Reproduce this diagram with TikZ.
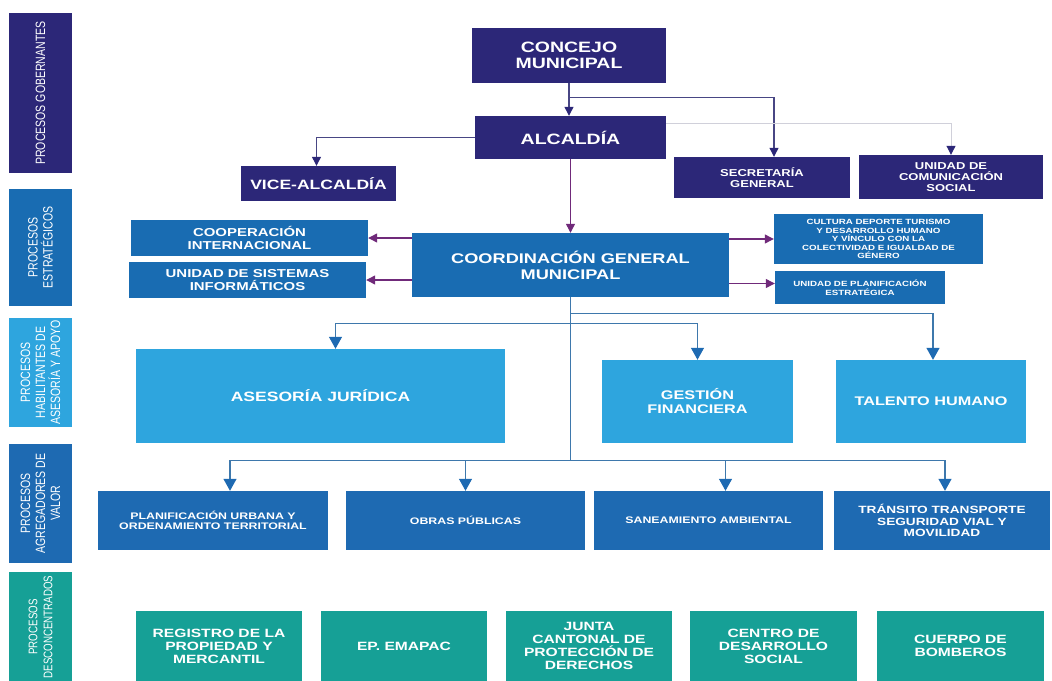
\documentclass[tikz,border=0pt]{standalone}
\usepackage{fontspec}
\setmainfont{Liberation Sans}[FakeStretch=1.3]
\newfontfamily\bandfont{Liberation Sans}[FakeStretch=0.78]
\usetikzlibrary{arrows.meta,calc}
\definecolor{govcol}{RGB}{44,39,120}
\definecolor{estcol}{RGB}{25,108,178}
\definecolor{habcol}{RGB}{46,165,222}
\definecolor{agrcol}{RGB}{30,106,178}
\definecolor{descol}{RGB}{22,160,150}
\definecolor{govline}{RGB}{72,70,132}
\definecolor{paleline}{RGB}{208,208,218}
\definecolor{purpline}{RGB}{112,42,122}
\definecolor{blueline}{RGB}{62,120,172}
\tikzset{
	box/.style={fill=#1, text=white, align=center, inner sep=2pt},
	fsz/.style 2 args={font=\bfseries\fontsize{#1}{#2}\selectfont},
	band/.style={box=#1, rotate=90, minimum width=\bandh, minimum height=63,
		font=\bandfont\fontsize{13.5}{15}\selectfont},
	govarrow/.style={draw=govline, line width=1.2pt, -{Triangle[length=9pt,width=9pt,color=govcol]}},
	palearrow/.style={draw=paleline, line width=1pt, -{Triangle[length=9pt,width=9pt,color=govcol]}},
	purparrow/.style={draw=purpline, line width=1.2pt, -{Triangle[length=9pt,width=9pt]}},
	bluearrow/.style={draw=blueline, line width=1.2pt, -{Triangle[length=12pt,width=13pt,color=agrcol]}},
}
\begin{document}
\begin{tikzpicture}[x=1pt, y=-1pt]
	\useasboundingbox (0,0) rectangle (1052,680);
	\def\bandh{160}
	\node[band=govcol] (gobernantes) at (40.5,93) {PROCESOS GOBERNANTES};
	\def\bandh{117}
	\node[band=estcol] (estrategicos) at (40.5,247.5) {PROCESOS\\ESTRATÉGICOS};
	\def\bandh{109}
	\node[band=habcol] (habilitantes) at (40.5,372.5) {PROCESOS\\HABILITANTES DE\\ASESORÍA Y APOYO};
	\def\bandh{119}
	\node[band=agrcol] (agregadores) at (40.5,503.5) {PROCESOS\\AGREGADORES DE\\VALOR};
	\def\bandh{110}
	\node[band=descol, font=\bandfont\fontsize{12.5}{15}\selectfont] (desconcentrados) at (40.5,627) {PROCESOS\\DESCONCENTRADOS};

	\node[box=govcol, fsz={15}{16}, minimum width=194, minimum height=55] (concejo) at (569,55.5) {CONCEJO\\MUNICIPAL};
	\node[box=govcol, fsz={15}{16}, minimum width=191, minimum height=43] (alcaldia) at (570.5,137.5) {ALCALDÍA};
	\node[box=govcol, fsz={13.5}{15}, minimum width=155, minimum height=35] (vice) at (318.5,183.5) {VICE-ALCALDÍA};
	\node[box=govcol, fsz={10}{11}, minimum width=176, minimum height=41] (secretaria) at (762,177.5) {SECRETARÍA\\GENERAL};
	\node[box=govcol, fsz={10}{11}, minimum width=184, minimum height=44] (comunicacion) at (951,177) {UNIDAD DE\\COMUNICACIÓN\\SOCIAL};

	\node[box=estcol, fsz={11.5}{13}, minimum width=237, minimum height=36] (cooperacion) at (249.5,238) {COOPERACIÓN\\INTERNACIONAL};
	\node[box=estcol, fsz={11.5}{13}, minimum width=237, minimum height=36] (sistemas) at (247.5,280) {UNIDAD DE SISTEMAS\\INFORMÁTICOS};
	\node[box=estcol, fsz={14}{16}, minimum width=317, minimum height=64] (coordinacion) at (570.5,265) {COORDINACIÓN GENERAL\\MUNICIPAL};
	\node[box=estcol, fsz={7.5}{8.5}, minimum width=209, minimum height=50] (cultura) at (878.5,239) {CULTURA DEPORTE TURISMO\\Y DESARROLLO HUMANO\\Y VÍNCULO CON LA\\COLECTIVIDAD E IGUALDAD DE\\GÉNERO};
	\node[box=estcol, fsz={7.5}{8.5}, minimum width=170, minimum height=33] (planestrat) at (860,287.5) {UNIDAD DE PLANIFICACIÓN\\ESTRATÉGICA};

	\node[box=habcol, fsz={13.5}{15}, minimum width=369, minimum height=94] (asesoria) at (320.5,396) {ASESORÍA JURÍDICA};
	\node[box=habcol, fsz={12.5}{14}, minimum width=191, minimum height=83] (gestion) at (697.5,401.5) {GESTIÓN\\FINANCIERA};
	\node[box=habcol, fsz={12.5}{14}, minimum width=190, minimum height=83] (talento) at (931,401.5) {TALENTO HUMANO};

	\node[box=agrcol, fsz={9.5}{10.5}, minimum width=230, minimum height=59] (planurb) at (213,520.5) {PLANIFICACIÓN URBANA Y\\ORDENAMIENTO TERRITORIAL};
	\node[box=agrcol, fsz={9.5}{10.5}, minimum width=239, minimum height=59] (obras) at (465.5,520.5) {OBRAS PÚBLICAS};
	\node[box=agrcol, fsz={9.5}{10.5}, minimum width=229, minimum height=59] (saneamiento) at (708.5,520.5) {SANEAMIENTO AMBIENTAL};
	\node[box=agrcol, fsz={10.5}{11.5}, minimum width=216, minimum height=59] (transito) at (942,520.5) {TRÁNSITO TRANSPORTE\\SEGURIDAD VIAL Y\\MOVILIDAD};

	\node[box=descol, fsz={12}{13}, minimum width=166, minimum height=70] (registro) at (219,646) {REGISTRO DE LA\\PROPIEDAD Y\\MERCANTIL};
	\node[box=descol, fsz={12}{13}, minimum width=166, minimum height=70] (emapac) at (404,646) {EP. EMAPAC};
	\node[box=descol, fsz={12}{13}, minimum width=166, minimum height=70] (junta) at (589,646) {JUNTA\\CANTONAL DE\\PROTECCIÓN DE\\DERECHOS};
	\node[box=descol, fsz={12}{13}, minimum width=167, minimum height=70] (centro) at (773.5,646) {CENTRO DE\\DESARROLLO\\SOCIAL};
	\node[box=descol, fsz={12}{13}, minimum width=167, minimum height=70] (bomberos) at (960.5,646) {CUERPO DE\\BOMBEROS};

	\draw[govarrow] (concejo.south) -- (concejo.south |- alcaldia.north);
	\draw[govarrow] ($(concejo.south)+(0,14)$) -| ($(secretaria.north)+(12,0)$);
	\draw[govarrow] (alcaldia.west) -| ($(vice.north)+(-2,0)$);
	\draw[palearrow] ($(alcaldia.north east)+(0,8)$) -| (comunicacion.north);
	\draw[purparrow] (alcaldia.south) -- (coordinacion.north);
	\draw[purparrow] (coordinacion.west |- cooperacion.east) -- (cooperacion.east);
	\draw[purparrow] (coordinacion.west |- sistemas.east) -- (sistemas.east);
	\draw[purparrow] (coordinacion.east |- cultura.west) -- (cultura.west);
	\draw[purparrow] ($(coordinacion.east |- planestrat.west)+(0,-4)$) -- ($(planestrat.west)+(0,-4)$);

	\coordinate (trunk) at ($(coordinacion.south)+(0,163)$);
	\draw[draw=blueline, line width=1.2pt] (coordinacion.south) -- (trunk);
	\draw[bluearrow] ($(coordinacion.south)+(0,16)$) -| ($(talento.north)+(2,0)$);
	\draw[bluearrow] ($(coordinacion.south)+(0,26)$) -| ($(asesoria.north)+(15,0)$);
	\draw[bluearrow] ($(coordinacion.south)+(0,26)$) -| (gestion.north);
	\draw[bluearrow] (trunk) -| ($(planurb.north)+(17,0)$);
	\draw[bluearrow] (trunk) -| (obras.north);
	\draw[bluearrow] (trunk) -| ($(saneamiento.north)+(17,0)$);
	\draw[bluearrow] (trunk) -| ($(transito.north)+(3,0)$);
\end{tikzpicture}
\end{document}
